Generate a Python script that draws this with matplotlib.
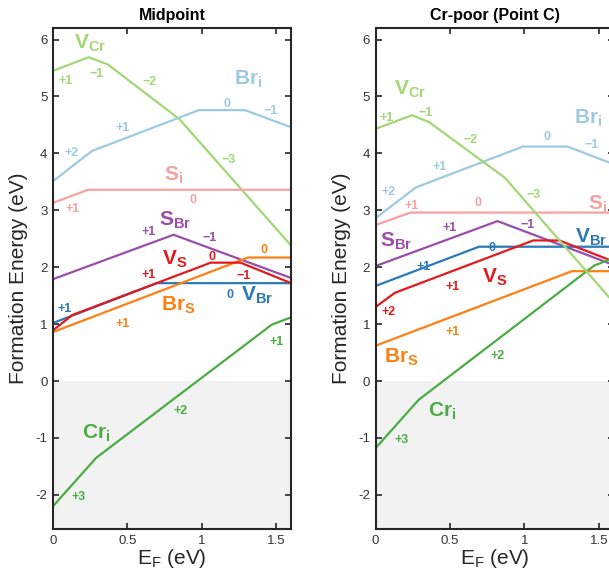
import matplotlib
matplotlib.use("Agg")
import matplotlib.pyplot as plt
from matplotlib.ticker import FixedLocator, FixedFormatter

plt.rcParams['font.family'] = ['Liberation Sans', 'DejaVu Sans']
plt.rcParams['mathtext.fontset'] = 'custom'
plt.rcParams['mathtext.rm'] = 'Liberation Sans'
plt.rcParams['mathtext.bf'] = 'Liberation Sans:bold'
plt.rcParams['axes.unicode_minus'] = False

# ---- Midpoint (left panel) : kink points of each defect line ----
vcr_mid_x = [0, 0.24, 0.37, 0.85, 1.6]
vcr_mid_y = [5.45, 5.69, 5.56, 4.60, 2.38]
bri_mid_x = [0, 0.26, 0.98, 1.29, 1.6]
bri_mid_y = [3.51, 4.04, 4.76, 4.76, 4.46]
si_mid_x = [0, 0.235, 1.6]
si_mid_y = [3.13, 3.36, 3.36]
sbr_mid_x = [0, 0.81, 1.6]
sbr_mid_y = [1.79, 2.57, 1.81]
vbr_mid_x = [0, 0.70, 1.6]
vbr_mid_y = [1.02, 1.72, 1.72]
vs_mid_x = [0, 0.13, 1.06, 1.26, 1.6]
vs_mid_y = [0.89, 1.16, 2.08, 2.08, 1.72]
brs_mid_x = [0, 1.31, 1.6]
brs_mid_y = [0.86, 2.17, 2.17]
cri_mid_x = [0, 0.29, 1.47, 1.6]
cri_mid_y = [-2.2, -1.35, 0.99, 1.12]

# ---- Cr-poor (Point C) (right panel) ----
vcr_c_x = [0, 0.245, 0.36, 0.87, 1.6]
vcr_c_y = [4.43, 4.67, 4.55, 3.57, 1.38]
bri_c_x = [0, 0.27, 0.99, 1.29, 1.6]
bri_c_y = [2.86, 3.40, 4.12, 4.12, 3.81]
si_c_x = [0, 0.235, 1.6]
si_c_y = [2.74, 2.96, 2.96]
sbr_c_x = [0, 0.82, 1.6]
sbr_c_y = [2.02, 2.81, 2.04]
vbr_c_x = [0, 0.695, 1.6]
vbr_c_y = [1.67, 2.36, 2.36]
vs_c_x = [0, 0.13, 1.06, 1.235, 1.6]
vs_c_y = [1.30, 1.55, 2.47, 2.47, 2.10]
brs_c_x = [0, 1.32, 1.6]
brs_c_y = [0.62, 1.93, 1.93]
cri_c_x = [0, 0.29, 1.47, 1.6]
cri_c_y = [-1.18, -0.33, 2.03, 2.16]

xticks = [0, 0.5, 1, 1.5]
xtick_labels = ['0', '0.5', '1', '1.5']
yticks = [-2, -1, 0, 1, 2, 3, 4, 5, 6]
ytick_labels = ['-2', '-1', '0', '1', '2', '3', '4', '5', '6']

cols = {
    'vcr': '#a3d775', 'bri': '#9ecae1', 'si': '#f5a2a0', 'sbr': '#9a4ea8',
    'vs': '#e3191c', 'vbr': '#2a7ab8', 'brs': '#ff8012', 'cri': '#4aad44',
}

# labels: (text, x, y, color key, big?)
labels_mid = [
    (r'$\mathbf{V_{Cr}}$', 0.25, 5.93, 'vcr', True),
    ('+1', 0.085, 5.28, 'vcr', False), ('\u22121', 0.29, 5.40, 'vcr', False),
    ('\u22122', 0.65, 5.26, 'vcr', False), ('\u22123', 1.18, 3.89, 'vcr', False),
    (r'$\mathbf{Br_i}$', 1.31, 5.30, 'bri', True),
    ('0', 1.17, 4.87, 'bri', False), ('\u22121', 1.46, 4.75, 'bri', False),
    ('+1', 0.47, 4.44, 'bri', False), ('+2', 0.125, 4.00, 'bri', False),
    (r'$\mathbf{S_i}$', 0.81, 3.62, 'si', True),
    ('0', 0.94, 3.18, 'si', False), ('+1', 0.13, 3.02, 'si', False),
    (r'$\mathbf{S_{Br}}$', 0.82, 2.83, 'sbr', True),
    ('+1', 0.64, 2.62, 'sbr', False), ('\u22121', 1.05, 2.52, 'sbr', False),
    (r'$\mathbf{V_S}$', 0.82, 2.13, 'vs', True),
    ('+1', 0.64, 1.86, 'vs', False), ('0', 1.07, 2.18, 'vs', False),
    ('\u22121', 1.28, 1.84, 'vs', False),
    ('0', 1.42, 2.31, 'brs', False),
    ('+1', 0.08, 1.26, 'vbr', False), ('0', 1.19, 1.51, 'vbr', False),
    (r'$\mathbf{V_{Br}}$', 1.37, 1.51, 'vbr', True),
    (r'$\mathbf{Br_S}$', 0.84, 1.33, 'brs', True), ('+1', 0.47, 1.01, 'brs', False),
    (r'$\mathbf{Cr_i}$', 0.29, -0.92, 'cri', True),
    ('+2', 0.86, -0.53, 'cri', False), ('+3', 0.17, -2.03, 'cri', False),
    ('+1', 1.50, 0.69, 'cri', False),
]

labels_c = [
    (r'$\mathbf{V_{Cr}}$', 0.23, 5.12, 'vcr', True),
    ('+1', 0.075, 4.63, 'vcr', False), ('\u22121', 0.34, 4.71, 'vcr', False),
    ('\u22122', 0.64, 4.23, 'vcr', False), ('\u22123', 1.06, 3.26, 'vcr', False),
    (r'$\mathbf{Br_i}$', 1.43, 4.62, 'bri', True),
    ('0', 1.15, 4.29, 'bri', False), ('\u22121', 1.45, 4.14, 'bri', False),
    ('+1', 0.43, 3.76, 'bri', False), ('+2', 0.09, 3.32, 'bri', False),
    (r'$\mathbf{S_i}$', 1.49, 3.10, 'si', True),
    ('+1', 0.24, 3.08, 'si', False), ('0', 0.69, 3.12, 'si', False),
    (r'$\mathbf{S_{Br}}$', 0.14, 2.46, 'sbr', True),
    ('+1', 0.50, 2.69, 'sbr', False), ('\u22121', 1.02, 2.75, 'sbr', False),
    (r'$\mathbf{V_{Br}}$', 1.45, 2.52, 'vbr', True),
    ('0', 0.78, 2.33, 'vbr', False), ('+1', 0.32, 2.00, 'vbr', False),
    (r'$\mathbf{V_S}$', 0.80, 1.83, 'vs', True),
    ('+1', 0.52, 1.66, 'vs', False), ('+2', 0.09, 1.22, 'vs', False),
    (r'$\mathbf{Br_S}$', 0.17, 0.42, 'brs', True), ('+1', 0.52, 0.87, 'brs', False),
    (r'$\mathbf{Cr_i}$', 0.45, -0.53, 'cri', True),
    ('+2', 0.82, 0.44, 'cri', False), ('+3', 0.175, -1.04, 'cri', False),
]


def draw_panel(ax, series, labels, title):
    ax.axhspan(-2.6, 0, color='#f2f2f2', zorder=0, lw=0)
    for key, xs, ys in series:
        ax.plot(xs, ys, color=cols[key], lw=1.6, zorder=2, solid_joinstyle='miter')
    for txt, x, y, key, big in labels:
        ax.text(x, y, txt, color=cols[key], ha='center', va='center',
                fontsize=15 if big else 9, fontweight='bold', zorder=3)
    ax.set_xlim(0, 1.6)
    ax.set_ylim(-2.6, 6.2)
    ax.xaxis.set_major_locator(FixedLocator(xticks))
    ax.xaxis.set_major_formatter(FixedFormatter(xtick_labels))
    ax.yaxis.set_major_locator(FixedLocator(yticks))
    ax.yaxis.set_major_formatter(FixedFormatter(ytick_labels))
    ax.tick_params(direction='in', length=4, width=1.2, top=True, right=True,
                   labelsize=9.5, labelcolor='#333333', color='#262626', pad=4)
    for sp in ax.spines.values():
        sp.set_linewidth(1.5)
        sp.set_color('#262626')
    ax.set_title(title, fontsize=11.5, fontweight='bold', pad=6)
    ax.set_ylabel('Formation Energy (eV)', fontsize=15, color='#262626')
    ax.set_xlabel(r'E$_\mathrm{F}$ (eV)', fontsize=15, color='#262626')
    ax.yaxis.set_label_coords(-0.105, 0.5)
    ax.xaxis.set_label_coords(0.5, -0.035)


fig = plt.figure(figsize=(6.09, 5.75), dpi=100)
ax1 = fig.add_axes([0.087, 0.08, 0.391, 0.871])
ax2 = fig.add_axes([0.6166, 0.08, 0.391, 0.871])

series_mid = [
    ('vcr', vcr_mid_x, vcr_mid_y), ('bri', bri_mid_x, bri_mid_y),
    ('si', si_mid_x, si_mid_y), ('sbr', sbr_mid_x, sbr_mid_y),
    ('vbr', vbr_mid_x, vbr_mid_y), ('brs', brs_mid_x, brs_mid_y),
    ('vs', vs_mid_x, vs_mid_y), ('cri', cri_mid_x, cri_mid_y),
]
series_c = [
    ('bri', bri_c_x, bri_c_y), ('si', si_c_x, si_c_y),
    ('sbr', sbr_c_x, sbr_c_y), ('vbr', vbr_c_x, vbr_c_y),
    ('brs', brs_c_x, brs_c_y), ('vs', vs_c_x, vs_c_y),
    ('cri', cri_c_x, cri_c_y), ('vcr', vcr_c_x, vcr_c_y),
]

draw_panel(ax1, series_mid, labels_mid, 'Midpoint')
draw_panel(ax2, series_c, labels_c, 'Cr-poor (Point C)')

fig.savefig('out.png', dpi=100)
